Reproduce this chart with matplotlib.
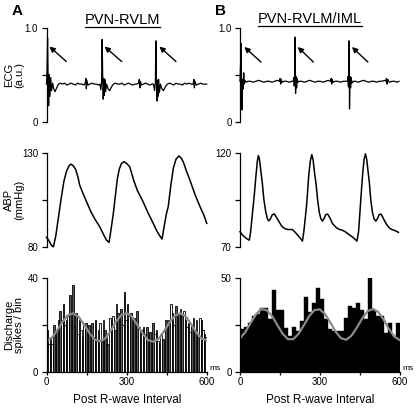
import matplotlib
matplotlib.use("Agg")
import matplotlib.pyplot as plt
from matplotlib.lines import Line2D

plt.rcParams['font.family'] = ['Liberation Sans', 'DejaVu Sans']

# ---------------- data ----------------
ecgA_t = [0,2,4,6,8,10,13,16,19,23,27,32,38,45,52,60,68,76,84,92,100,108,116,124,132,140,
          145,147,149,151,155,162,170,178,186,194,200,203,206,208,210,212,214,216,218,221,225,
          230,236,243,250,258,266,274,282,290,298,306,314,322,330,338,344,347,349,351,355,362,
          370,378,386,394,400,404,407,409,411,413,415,417,419,422,426,431,437,444,452,460,468,
          476,484,492,500,508,516,524,532,540,548,551,553,555,560,568,576,584,592,599]
ecgA_v = [0.40,0.55,0.89,0.45,0.17,0.50,0.27,0.47,0.33,0.41,0.35,0.32,0.36,0.40,0.41,0.40,0.41,
          0.39,0.40,0.41,0.40,0.39,0.41,0.40,0.40,0.39,
          0.41,0.46,0.35,0.44,0.39,0.40,0.41,0.40,0.40,0.39,0.40,0.34,0.42,0.875,0.50,0.24,0.46,
          0.28,0.45,0.32,0.40,
          0.35,0.33,0.37,0.40,0.41,0.40,0.40,0.41,0.39,0.40,0.41,0.40,0.39,0.40,0.40,0.41,0.45,
          0.36,0.43,0.39,0.40,
          0.41,0.40,0.39,0.40,0.40,0.33,0.42,0.86,0.48,0.22,0.44,0.27,0.45,0.31,0.40,0.35,0.33,
          0.37,0.40,0.41,0.40,
          0.39,0.41,0.40,0.40,0.39,0.41,0.40,0.41,0.40,0.40,0.45,0.36,0.43,0.39,0.40,0.41,0.40,
          0.40,0.40]

ecgB_t = [0,2,4,6,8,10,12,14,16,19,23,30,40,50,60,70,80,90,100,110,120,130,140,148,151,153,155,
          158,165,175,185,195,200,202,204,206,207,209,211,213,215,218,224,232,242,252,262,272,
          282,292,302,312,322,332,340,343,345,347,350,358,368,378,388,398,404,406,408,410,412,
          414,416,418,421,426,434,444,454,464,474,484,494,504,514,524,534,544,549,551,553,556,
          562,572,582,590,598]
ecgB_v = [0.43,0.60,0.83,0.40,0.125,0.45,0.35,0.52,0.40,0.44,0.42,0.43,0.43,0.42,0.43,0.44,0.43,
          0.42,0.43,0.43,0.42,0.43,0.44,0.43,0.46,0.40,0.45,0.42,0.43,0.43,0.42,0.43,0.43,0.47,
          0.38,0.46,0.90,0.30,0.48,0.36,0.46,0.42,0.43,0.43,0.42,0.43,0.44,0.43,
          0.42,0.43,0.43,0.42,0.43,0.44,0.43,0.46,0.40,0.45,0.42,0.43,0.43,0.42,0.43,0.43,0.43,
          0.48,0.37,0.86,0.136,0.48,0.36,0.47,0.41,0.43,0.43,0.42,0.43,0.44,0.43,0.42,0.43,0.43,
          0.42,0.43,0.43,0.44,0.43,0.46,0.40,0.45,0.42,0.43,0.43,0.42,0.43]

abpA_t = [0,8,15,22,26,35,45,55,65,75,85,92,100,109,118,124,135,150,165,180,199,215,224,234,
          242,250,258,265,272,280,290,300,311,318,326,340,361,380,399,412,424,432,440,448,455,
          465,474,484,495,503,511,522,536,555,574,588,599]
abpA_v = [85.0,83.5,81.5,80.2,80.0,86.0,96.0,106.0,115.0,120.5,123.5,124.2,123.3,121.4,117.0,
          113.0,109.0,104.0,99.0,95.0,90.7,86.0,83.6,82.3,
          90.0,98.0,108.0,116.5,121.5,124.5,125.5,124.5,122.8,119.5,115.5,110.0,104.1,98.0,92.5,
          88.5,85.7,84.1,91.0,97.5,101.4,113.0,121.9,126.8,128.6,127.5,125.5,121.0,115.7,108.0,
          101.4,97.0,92.5]

abpB_t = [0,10,19,28,35,40,47,54,60,65,69,73,78,84,90,97,103,108,114,121,129,136,147,157,167,
          180,197,207,217,227,235,240,246,251,258,264,270,275,280,286,292,298,304,310,316,323,
          330,338,348,360,371,385,396,410,425,440,446,451,455,462,467,472,477,482,487,492,498,
          504,511,517,524,531,538,545,553,562,571,585,596]
abpB_v = [78.0,76.2,75.0,74.0,73.5,78.0,88.0,98.0,108.0,115.5,118.8,117.0,111.0,104.0,95.0,88.6,
          85.0,83.8,84.8,87.0,87.6,86.0,83.3,81.0,79.8,79.2,79.2,77.8,76.2,74.5,73.0,78.0,86.0,
          93.0,107.0,115.5,119.3,116.5,110.0,103.7,95.0,88.6,85.0,83.7,85.0,87.3,87.4,85.5,82.4,
          80.5,79.4,78.8,78.0,76.5,75.0,73.0,78.0,88.0,96.6,110.0,117.0,119.7,116.5,110.0,103.7,
          95.0,88.6,85.0,83.7,85.0,87.3,87.4,85.5,83.5,81.6,80.0,79.2,78.5,77.7]

histA_bin = 6  # ms
histA = [18,12,15,12, 20,15,18,22, 26,22,29,20, 22,24,33,22, 37,20,25,16, 22,18,15,20,
         21,18,20,17, 21,15,22,13, 18,21,14,22, 18,15,12,23, 22,24,18,29, 25,22,27,20,
         34,22,29,24, 25,21,23,22, 26,19,17,18, 19,16,19,17, 17,14,21,16, 18,13,12,16,
         14,13,22,20, 22,29,25,20, 28,22,25,27, 24,26,22,19, 21,17,20,23, 18,22,15,23,
         22,18,16,15]
histB_bin = 15  # ms
histB = [23,24,26,30,31,34,34,28,44,33,33,23.5,19,24,22,27,40,32,37,45,39,28,23,22,22,22,29,
         35,34,37,33,28,50,33,30,30,20.5,26,19,26]

fit_t = list(range(0, 601, 20))
fitA = [13.0,14.5,17.7,21.4,24.2,25.0,23.5,20.3,16.6,13.8,13.0,14.3,17.5,21.5,24.3,25.1,23.5,
        20.0,16.3,13.5,12.8,14.2,17.4,21.2,24.0,25.0,23.7,20.5,16.8,14.2,13.3]
fitB = [17.8,21.2,26.1,30.7,33.5,33.0,29.9,25.1,20.4,17.4,17.4,20.2,24.8,29.7,33.0,33.4,30.8,
        26.3,21.4,17.9,17.1,19.4,23.7,28.6,32.4,33.6,32.0,28.0,23.0,18.8,17.0]

# ---------------- figure ----------------
W, H = 416, 409
fig = plt.figure(figsize=(W / 100, H / 100), dpi=100)

def ax_px(x0, x1, ytop, ybot):
    return fig.add_axes([x0 / W, 1 - ybot / H, (x1 - x0) / W, (ybot - ytop) / H])

colsA = (46.5, 207)
colsB = (240, 399.5)
rows = [(27.7, 121.7), (153.3, 246.7), (278.3, 371.7)]

TICK = 7
def style(ax, xaxis=False):
    for s in ['top', 'right']:
        ax.spines[s].set_visible(False)
    ax.spines['left'].set_linewidth(0.9)
    if not xaxis:
        ax.spines['bottom'].set_visible(False)
        ax.set_xticks([])
    else:
        ax.spines['bottom'].set_linewidth(0.9)
    ax.tick_params(axis='y', direction='out', length=3.5, width=0.9, labelsize=TICK, pad=2.5)
    ax.tick_params(axis='x', direction='out', length=2.5, width=0.9, labelsize=TICK, pad=1)
    ax.set_xlim(0, 600)

axes = {}
for col, cx in (('A', colsA), ('B', colsB)):
    for r, (yt, yb) in enumerate(rows):
        axes[(col, r)] = ax_px(cx[0], cx[1], yt, yb)

# ECG
for col, t, v in (('A', ecgA_t, ecgA_v), ('B', ecgB_t, ecgB_v)):
    ax = axes[(col, 0)]
    ax.plot(t, v, color='black', lw=0.9, clip_on=False)
    style(ax)
    ax.set_ylim(0, 1)
    ax.set_yticks([0, 0.5, 1.0])
    ax.set_yticklabels(['0', '', '1.0'])

arrowsA = [((74, 0.64), (11, 0.80)), ((281, 0.64), (217, 0.80)), ((484, 0.64), (422, 0.80))]
arrowsB = [((79, 0.635), (16, 0.795)), ((276, 0.635), (217, 0.795)), ((481, 0.635), (421, 0.795))]
for col, arrs in (('A', arrowsA), ('B', arrowsB)):
    for tail, tip in arrs:
        axes[(col, 0)].annotate('', xy=tip, xytext=tail,
                                arrowprops=dict(arrowstyle='-|>', color='black', lw=1.0,
                                                mutation_scale=8, shrinkA=0, shrinkB=0))

# ABP
for col, t, v, lo, hi in (('A', abpA_t, abpA_v, 80, 130), ('B', abpB_t, abpB_v, 70, 120)):
    ax = axes[(col, 1)]
    ax.plot(t, v, color='black', lw=1.1, clip_on=False, solid_joinstyle='round')
    style(ax)
    ax.set_ylim(lo, hi)
    ax.set_yticks([lo, (lo + hi) / 2, hi])
    ax.set_yticklabels([str(lo), '', str(hi)])

# Histograms
axA = axes[('A', 2)]
leftA = [i * histA_bin for i in range(len(histA))]
colorsA = ['#5a5a5a' if i % 2 == 0 else 'white' for i in range(len(histA))]
axA.bar(leftA, histA, width=histA_bin, align='edge', color=colorsA, edgecolor='black', lw=0.6)
axA.plot(fit_t, fitA, color='#8a8a8a', lw=1.6)
style(axA, xaxis=True)
axA.set_ylim(0, 40)
axA.set_yticks([0, 20, 40])
axA.set_yticklabels(['0', '', '40'])

axB = axes[('B', 2)]
leftB = [i * histB_bin for i in range(len(histB))]
axB.bar(leftB, histB, width=histB_bin, align='edge', color='black', edgecolor='black', lw=0.3)
axB.plot(fit_t, fitB, color='#8a8a8a', lw=1.6)
style(axB, xaxis=True)
axB.set_ylim(0, 50)
axB.set_yticks([0, 25, 50])
axB.set_yticklabels(['0', '', '50'])

for ax in (axA, axB):
    ax.set_xticks([0, 150, 300, 450, 600])
    ax.set_xticklabels(['0', '', '300', '', '600'])
    ax.set_xlabel('Post R-wave Interval', fontsize=8.5, labelpad=5)
    ax.text(1.015, 0.0, 'ms', transform=ax.transAxes, fontsize=6, ha='left', va='bottom')

# y labels (panel A only)
ylabels = ['ECG\n(a.u.)', 'ABP\n(mmHg)', 'Discharge\nspikes / bin']
for r, lab in enumerate(ylabels):
    ax = axes[('A', r)]
    ax.set_ylabel(lab, fontsize=8, linespacing=0.95)
    ax.yaxis.set_label_coords(-0.14, 0.5)

# panel letters & titles
fig.text(12 / W, 1 - 15 / H, 'A', fontsize=11, fontweight='bold', ha='left', va='baseline')
fig.text(215 / W, 1 - 15 / H, 'B', fontsize=11, fontweight='bold', ha='left', va='baseline')
tA = fig.text(122.5 / W, 1 - 24 / H, 'PVN-RVLM', fontsize=10.5, ha='center', va='baseline')
tB = fig.text(310 / W, 1 - 23 / H, 'PVN-RVLM/IML', fontsize=10.5, ha='center', va='baseline')

fig.canvas.draw()
rend = fig.canvas.get_renderer()
for t, yline in ((tA, 26.8), (tB, 25.5)):
    bb = t.get_window_extent(rend)
    fig.add_artist(Line2D([bb.x0 / W, bb.x1 / W], [1 - yline / H, 1 - yline / H],
                          transform=fig.transFigure, color='black', lw=0.9))

fig.savefig('out.png', dpi=100)
